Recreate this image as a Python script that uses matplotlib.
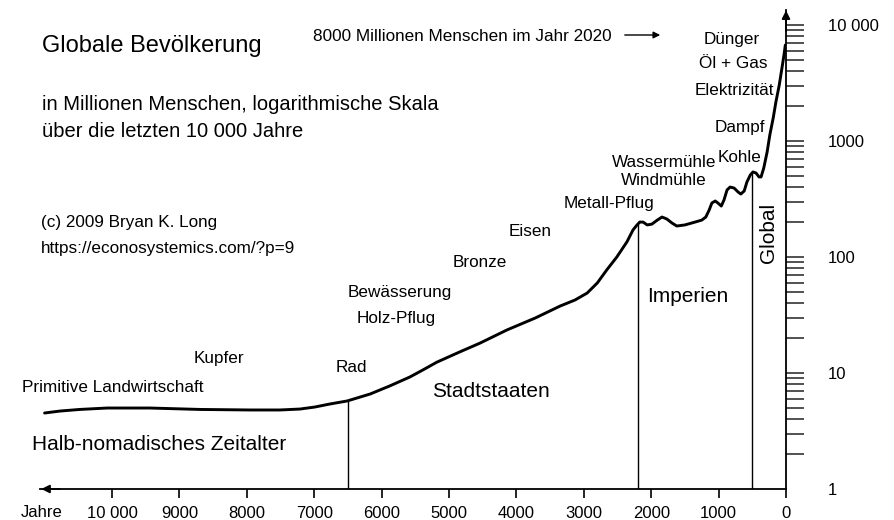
import numpy as np
import matplotlib
matplotlib.use("Agg")
import matplotlib.pyplot as plt
from matplotlib.ticker import FixedLocator, NullFormatter

plt.rcParams["font.family"] = ["Liberation Sans", "DejaVu Sans"]

# years before present and world population in millions
years = [11000, 10770, 10480, 10070, 9440, 8690, 7950, 7510, 7210, 6990,
         6770, 6510, 6170, 5880, 5580, 5390, 5180, 4840, 4540, 4140,
         3720, 3350, 3130, 2950, 2800, 2660, 2510, 2360, 2270, 2210,
         2170, 2120, 2060, 1990, 1910, 1840, 1770, 1690, 1620, 1500,
         1350, 1250, 1190, 1140, 1100, 1050, 1010, 960, 920, 875,
         830, 770, 710, 670, 620, 580, 530, 490, 445, 400,
         370, 330, 280, 240, 190, 150, 100, 60, 30, 10]
population = [4.52, 4.70, 4.85, 4.99, 4.99, 4.85, 4.80, 4.80, 4.89, 5.09,
              5.40, 5.74, 6.59, 7.73, 9.24, 10.6, 12.4, 15.2, 18.1, 23.5,
              29.8, 37.8, 42.6, 48.9, 59.7, 77.3, 100, 135, 171, 189,
              200, 200, 189, 192, 208, 221, 213, 196, 185, 189,
              200, 208, 221, 254, 292, 304, 292, 275, 310, 378,
              401, 393, 363, 349, 371, 443, 509, 541, 530, 490,
              490, 585, 804, 1127, 1578, 2168, 3040, 4260, 5510, 6720]

# boundaries between the eras
era_bounds = [6500, 2200, 500]

x_ticks = list(range(0, 10001, 1000))
x_labels = ["10 000" if t == 10000 else str(t) for t in x_ticks]
y_ticks = [1, 10, 100, 1000, 10000]
y_labels = ["1", "10", "100", "1000", "10 000"]

W, H = 895, 520
fig = plt.figure(figsize=(W / 100, H / 100), dpi=100)
ax = fig.add_axes([40 / W, 31 / H, 746 / W, 479 / H])
ax.set_yscale("log")
ax.set_xlim(11068, 0)
ax.set_ylim(1, 13470)

ax.plot(years, population, color="black", lw=2.1,
        solid_joinstyle="round", solid_capstyle="round")

log_pop = np.log10(population)
for yr in era_bounds:
    top = 10 ** np.interp(yr, years[::-1], log_pop[::-1])
    ax.vlines(yr, 1, top, color="black", lw=1.0)

# axes: bottom and right only, with arrow heads
ax.spines[["left", "top"]].set_visible(False)
for side in ("right", "bottom"):
    ax.spines[side].set_linewidth(1.3)
ax.yaxis.tick_right()

ax.set_xticks(x_ticks, x_labels)
ax.tick_params(axis="x", direction="out", length=6.5, width=1.2, pad=6,
               labelsize=12)

ax.set_yticks(y_ticks, y_labels)
ax.yaxis.set_minor_locator(FixedLocator(
    [m * 10 ** d for d in range(4) for m in range(2, 10)]))
ax.yaxis.set_minor_formatter(NullFormatter())
ax.tick_params(axis="y", which="both", direction="out", length=13,
               width=1.2, pad=17, labelsize=12, colors="#333333",
               labelcolor="black")
ax.yaxis.get_major_ticks()[0].tick2line.set_visible(False)

ax.annotate("", xy=(-0.002, 0), xycoords="axes fraction",
            xytext=(0.03, 0),
            arrowprops=dict(arrowstyle="-|>", color="black", lw=1.3,
                            mutation_scale=12))
ax.annotate("", xy=(1, 1.005), xycoords="axes fraction",
            xytext=(1, 0.95),
            arrowprops=dict(arrowstyle="-|>", color="black", lw=1.3,
                            mutation_scale=12))


def label(x, y, s, size=12.3, ha="center", **kw):
    fig.text(x / W, 1 - y / H, s, fontsize=size, ha=ha, va="baseline", **kw)


label(42, 52, "Globale Bevölkerung", size=17, ha="left")
label(42, 110, "in Millionen Menschen, logarithmische Skala", size=14.5, ha="left")
label(42, 137, "über die letzten 10 000 Jahre", size=14.5, ha="left")
label(41, 227, "(c) 2009 Bryan K. Long", ha="left")
label(41, 253, "https://econosystemics.com/?p=9", ha="left")
label(313, 41, "8000 Millionen Menschen im Jahr 2020", ha="left")
fig.add_artist(plt.Annotation(
    "", xy=(663 / W, 1 - 35 / H), xycoords="figure fraction",
    xytext=(622 / W, 1 - 35 / H),
    arrowprops=dict(arrowstyle="-|>", color="black", lw=1.0,
                    mutation_scale=10)))

# inventions along the curve
label(113, 392, "Primitive Landwirtschaft")
label(219, 363, "Kupfer")
label(351, 372, "Rad")
label(400, 297, "Bewässerung")
label(396, 323, "Holz-Pflug")
label(480, 267, "Bronze")
label(530, 236, "Eisen")
label(609, 208, "Metall-Pflug")
label(664, 167, "Wassermühle")
label(664, 185, "Windmühle")
label(740, 162, "Kohle")
label(740, 132, "Dampf")
label(734, 95, "Elektrizität")
label(733, 68, "Öl + Gas")
label(732, 44, "Dünger")

# eras
label(159, 450, "Halb-nomadisches Zeitalter", size=15)
label(491, 397, "Stadtstaaten", size=15)
label(688, 302, "Imperien", size=15)
fig.text(769 / W, 1 - 233 / H, "Global", fontsize=15, rotation=90,
         ha="center", va="center")
label(42, 517, "Jahre", size=12)

fig.savefig("out.png", dpi=100)
